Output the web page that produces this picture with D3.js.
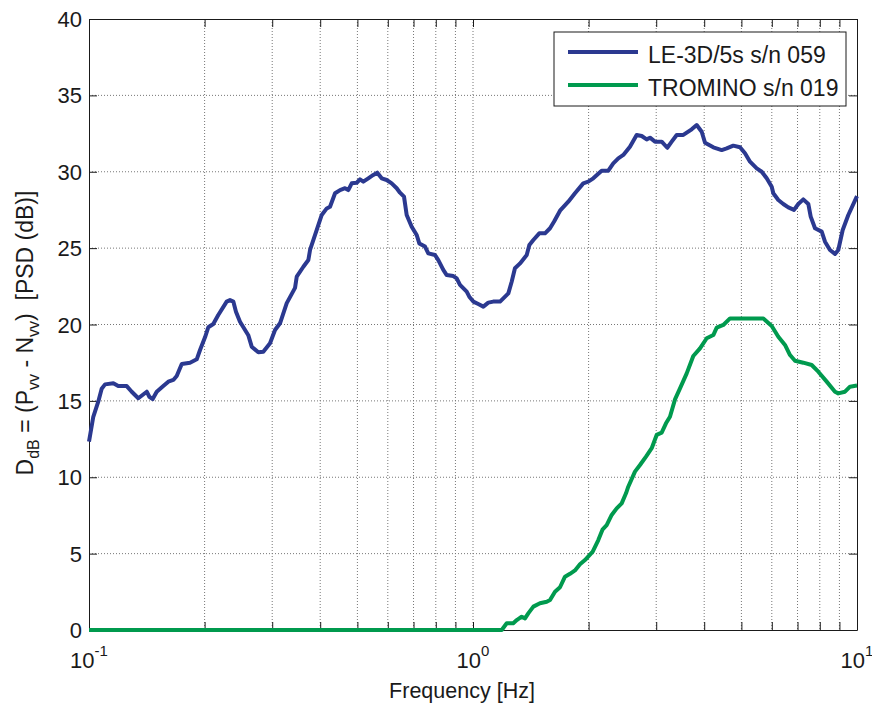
<!DOCTYPE html>
<html>
<head>
<meta charset="utf-8">
<script src="https://cdn.jsdelivr.net/npm/d3@7"></script>
<style>
  html, body { margin: 0; padding: 0; background: #fff; }
  svg { display: block; }
  text { font-family: "Liberation Sans", Arial, Helvetica, sans-serif; fill: #1a1a1a; }
</style>
</head>
<body>
<svg id="chart" width="872" height="707"></svg>
<script>
// Frequency (Hz) and D_dB values for the LE-3D/5s sensor
const leFreq = [0.100, 0.1026, 0.1057, 0.1079, 0.1101, 0.1157, 0.1192, 0.1254, 0.1292, 0.1344,
  0.1414, 0.1436, 0.1465, 0.1501, 0.1561, 0.1609, 0.1658, 0.1692, 0.1744, 0.1833,
  0.1908, 0.1946, 0.2005, 0.2045, 0.2107, 0.2171, 0.2283, 0.2329, 0.2376, 0.2414,
  0.2473, 0.2599, 0.2653, 0.2760, 0.2844, 0.2961, 0.3051, 0.3144, 0.3273, 0.3440,
  0.3475, 0.3616, 0.3726, 0.3764, 0.3918, 0.4037, 0.4160, 0.4243, 0.4373, 0.4506,
  0.4642, 0.4734, 0.4832, 0.4979, 0.5078, 0.5180, 0.5337, 0.5500, 0.5633, 0.5784,
  0.5960, 0.6141, 0.6328, 0.6455, 0.6612, 0.6719, 0.6924, 0.7135, 0.7247, 0.7499,
  0.7649, 0.7962, 0.8121, 0.8369, 0.8541, 0.8886, 0.9069, 0.9250, 0.9629, 0.9780,
  1.0018, 1.032, 1.064, 1.096, 1.129, 1.176, 1.236, 1.261, 1.286, 1.326,
  1.380, 1.402, 1.436, 1.488, 1.540, 1.587, 1.625, 1.685, 1.771, 1.843,
  1.937, 1.996, 2.057, 2.163, 2.251, 2.319, 2.390, 2.463, 2.563, 2.668,
  2.750, 2.833, 2.890, 2.978, 3.100, 3.206, 3.292, 3.392, 3.529, 3.602,
  3.711, 3.824, 3.941, 4.020, 4.225, 4.443, 4.578, 4.763, 4.958, 5.109,
  5.265, 5.481, 5.648, 5.819, 5.997, 6.054, 6.239, 6.428, 6.624, 6.854,
  7.033, 7.247, 7.468, 7.576, 7.774, 8.093, 8.254, 8.505, 8.764, 8.939,
  9.178, 9.492, 10.0];
const leDb = [12.33, 13.96, 14.95, 15.80, 16.08, 16.15, 15.97, 15.97, 15.60, 15.17,
  15.60, 15.27, 15.12, 15.60, 15.97, 16.26, 16.37, 16.63, 17.41, 17.50,
  17.72, 18.33, 19.16, 19.82, 20.03, 20.62, 21.50, 21.60, 21.50, 20.84,
  20.18, 19.30, 18.55, 18.18, 18.22, 18.77, 19.64, 20.08, 21.40, 22.40,
  23.13, 23.78, 24.22, 24.88, 26.19, 27.17, 27.60, 27.71, 28.59, 28.80,
  28.92, 28.80, 29.24, 29.28, 29.50, 29.35, 29.57, 29.79, 29.94, 29.57,
  29.46, 29.24, 28.92, 28.63, 28.37, 27.17, 26.40, 25.86, 25.31, 25.10,
  24.66, 24.55, 24.22, 23.57, 23.24, 23.17, 23.02, 22.59, 22.15, 21.82,
  21.50, 21.34, 21.17, 21.43, 21.50, 21.50, 22.04, 22.80, 23.68, 24.00,
  24.55, 25.20, 25.53, 25.97, 25.97, 26.30, 26.73, 27.45, 28.04, 28.59,
  29.24, 29.35, 29.57, 30.07, 30.07, 30.55, 30.88, 31.10, 31.64, 32.41,
  32.34, 32.12, 32.23, 31.97, 31.97, 31.57, 31.97, 32.41, 32.41, 32.56,
  32.78, 33.06, 32.62, 31.90, 31.60, 31.42, 31.53, 31.71, 31.60, 31.21,
  30.66, 30.22, 30.00, 29.57, 29.02, 28.59, 28.15, 27.89, 27.67, 27.50,
  27.89, 28.19, 27.89, 27.06, 26.30, 26.08, 25.42, 24.88, 24.62, 24.88,
  26.19, 27.17, 28.40];

// Frequency (Hz) and D_dB values for the TROMINO sensor
const trFreq = [0.100, 1.188, 1.224, 1.273, 1.300, 1.339, 1.366, 1.393, 1.436, 1.494,
  1.556, 1.587, 1.635, 1.685, 1.736, 1.789, 1.843, 1.899, 1.957, 2.050,
  2.120, 2.176, 2.229, 2.297, 2.367, 2.439, 2.503, 2.537, 2.641, 2.722,
  2.822, 2.920, 3.008, 3.100, 3.181, 3.258, 3.358, 3.460, 3.602, 3.747,
  3.901, 4.061, 4.225, 4.312, 4.486, 4.670, 5.702, 5.997, 6.239, 6.494,
  6.692, 6.895, 7.247, 7.621, 7.929, 8.338, 8.764, 8.939, 9.306, 9.589,
  10.0];
const trDb = [0, 0, 0.44, 0.44, 0.65, 0.87, 0.76, 1.09, 1.53, 1.75,
  1.85, 1.96, 2.51, 2.80, 3.49, 3.68, 3.90, 4.30, 4.58, 5.13,
  5.89, 6.59, 6.87, 7.53, 7.96, 8.29, 8.95, 9.38, 10.37, 10.80,
  11.35, 11.90, 12.77, 12.92, 13.53, 13.96, 15.10, 15.82, 16.80, 17.94,
  18.44, 19.10, 19.31, 19.79, 19.97, 20.40, 20.40, 19.90, 19.20, 18.66,
  18.00, 17.63, 17.50, 17.35, 16.91, 16.26, 15.60, 15.49, 15.60, 15.93,
  16.00];

const seriesNames = ["LE-3D/5s s/n 059", "TROMINO s/n 019"];
const seriesColors = ["#2b3990", "#009a4e"];

const yTicks = [0, 5, 10, 15, 20, 25, 30, 35, 40];
const xMajor = [0.1, 1, 10];
const xExponents = ["-1", "0", "1"];

const svg = d3.select("#chart");
const plotL = 89, plotT = 19, plotR = 857, plotB = 630;

const x = d3.scaleLog().domain([0.1, 10]).range([plotL, plotR]);
const y = d3.scaleLinear().domain([0, 40]).range([plotB, plotT]);

// Dotted grid: every decade subdivision and every 5 dB
const grid = svg.append("g");
grid.selectAll("line.vx")
  .data(x.ticks().filter(v => v > 0.1 && v < 10))
  .join("line")
  .attr("x1", d => x(d)).attr("x2", d => x(d))
  .attr("y1", plotT).attr("y2", plotB)
  .attr("stroke", "#777").attr("stroke-width", 1).attr("stroke-dasharray", "1,2");
grid.selectAll("line.hy")
  .data(yTicks.filter(v => v > 0 && v < 40))
  .join("line")
  .attr("x1", plotL).attr("x2", plotR)
  .attr("y1", d => y(d)).attr("y2", d => y(d))
  .attr("stroke", "#777").attr("stroke-width", 1).attr("stroke-dasharray", "1,2");

// Axes: inward ticks on all four sides
const tickLen = 8;
const axisColor = "#1a1a1a";
svg.append("g").attr("transform", `translate(0,${plotB})`)
  .call(d3.axisBottom(x).tickValues(x.ticks()).tickSizeInner(-tickLen).tickSizeOuter(0).tickFormat(""))
  .call(g => g.selectAll("line,path").attr("stroke", axisColor));
svg.append("g").attr("transform", `translate(0,${plotT})`)
  .call(d3.axisTop(x).tickValues(x.ticks()).tickSizeInner(-tickLen).tickSizeOuter(0).tickFormat(""))
  .call(g => g.selectAll("line,path").attr("stroke", axisColor));
svg.append("g").attr("transform", `translate(${plotL},0)`)
  .call(d3.axisLeft(y).tickValues(yTicks).tickSizeInner(-tickLen).tickSizeOuter(0).tickFormat(""))
  .call(g => g.selectAll("line,path").attr("stroke", axisColor));
svg.append("g").attr("transform", `translate(${plotR},0)`)
  .call(d3.axisRight(y).tickValues(yTicks).tickSizeInner(-tickLen).tickSizeOuter(0).tickFormat(""))
  .call(g => g.selectAll("line,path").attr("stroke", axisColor));

// Y tick labels
svg.append("g").selectAll("text")
  .data(yTicks)
  .join("text")
  .attr("x", plotL - 7)
  .attr("y", d => y(d) + 8)
  .attr("text-anchor", "end")
  .attr("font-size", 22)
  .text(d => d);

// X tick labels as powers of ten
const xl = svg.append("g").selectAll("text")
  .data(xMajor)
  .join("text")
  .attr("x", d => x(d))
  .attr("y", 668)
  .attr("text-anchor", "middle")
  .attr("font-size", 22);
xl.append("tspan").text("10");
xl.append("tspan").attr("font-size", 15).attr("dy", -12).text((d, i) => xExponents[i]);

// Axis titles
svg.append("text")
  .attr("x", 462)
  .attr("y", 698)
  .attr("text-anchor", "middle")
  .attr("font-size", 21.5)
  .text("Frequency [Hz]");

const yl = svg.append("text")
  .attr("transform", "translate(33,333) rotate(-90)")
  .attr("text-anchor", "middle")
  .attr("font-size", 23)
  .style("white-space", "pre");
yl.append("tspan").text("D");
yl.append("tspan").attr("font-size", 16).attr("dy", 6).text("dB");
yl.append("tspan").attr("dy", -6).text(" = (P");
yl.append("tspan").attr("font-size", 16).attr("dy", 6).text("vv");
yl.append("tspan").attr("dy", -6).text(" - N");
yl.append("tspan").attr("font-size", 16).attr("dy", 6).text("vv");
yl.append("tspan").attr("dy", -6).text(")  [PSD (dB)]");

// Curves
const line = d3.line().x(d => x(d[0])).y(d => y(d[1]));
const series = [
  d3.zip(leFreq, leDb),
  d3.zip(trFreq, trDb)
];
svg.append("g").selectAll("path")
  .data(series)
  .join("path")
  .attr("d", line)
  .attr("fill", "none")
  .attr("stroke", (d, i) => seriesColors[i])
  .attr("stroke-width", 4)
  .attr("stroke-linejoin", "round")
  .attr("stroke-linecap", "butt");

// Legend
const lg = svg.append("g");
lg.append("rect")
  .attr("x", 554).attr("y", 32).attr("width", 292).attr("height", 74)
  .attr("fill", "#fff").attr("stroke", axisColor).attr("stroke-width", 1);
const rows = lg.selectAll("g.row")
  .data(seriesNames)
  .join("g")
  .attr("transform", (d, i) => `translate(0,${52 + i * 33})`);
rows.append("line")
  .attr("x1", 568).attr("x2", 638)
  .attr("stroke", (d, i) => seriesColors[i])
  .attr("stroke-width", 4);
rows.append("text")
  .attr("x", 648).attr("y", 11)
  .attr("font-size", 23)
  .text(d => d);
</script>
</body>
</html>
